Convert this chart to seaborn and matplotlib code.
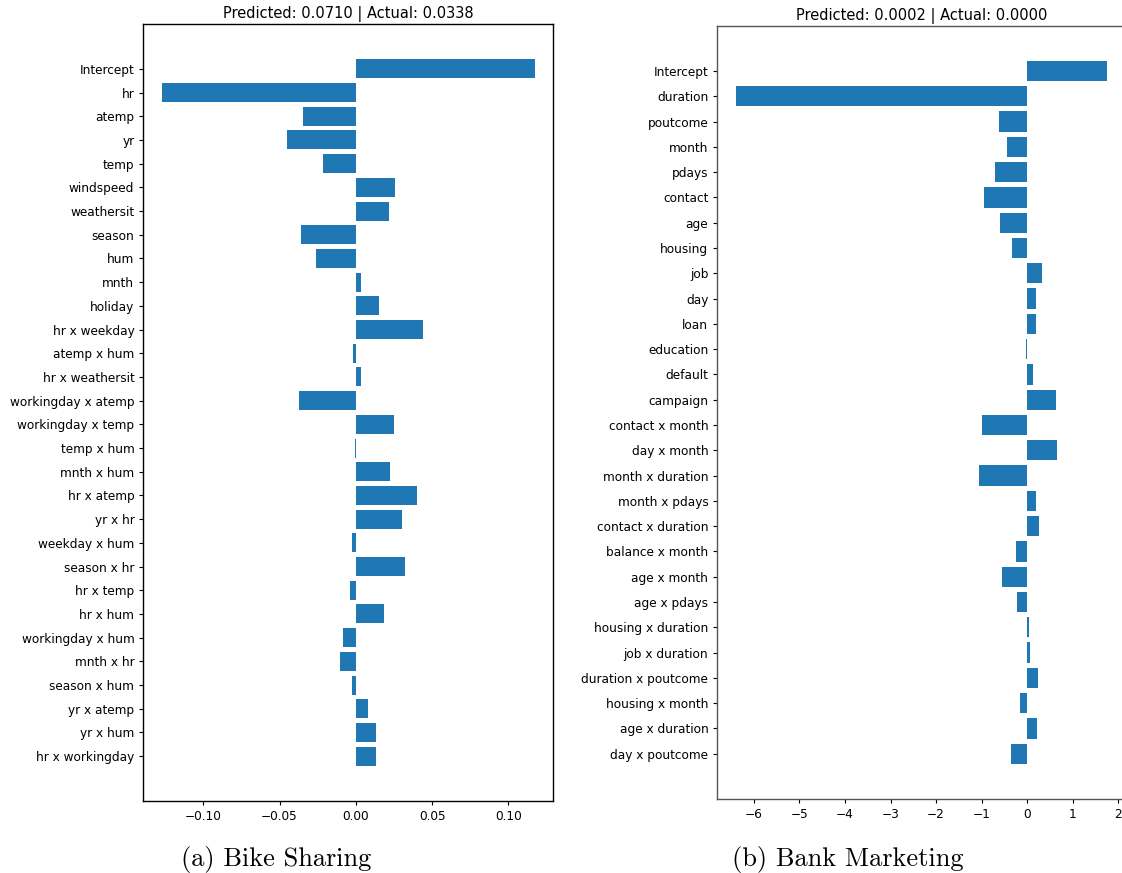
import matplotlib
matplotlib.use("Agg")
import matplotlib.pyplot as plt
import seaborn as sns

# Bike Sharing: local linear explanation terms (top to bottom)
bike_terms = [
    "Intercept", "hr", "atemp", "yr", "temp", "windspeed", "weathersit",
    "season", "hum", "mnth", "holiday", "hr x weekday", "atemp x hum",
    "hr x weathersit", "workingday x atemp", "workingday x temp",
    "temp x hum", "mnth x hum", "hr x atemp", "yr x hr", "weekday x hum",
    "season x hr", "hr x temp", "hr x hum", "workingday x hum",
    "mnth x hr", "season x hum", "yr x atemp", "yr x hum", "hr x workingday",
]
bike_weights = [
    0.1172, -0.1271, -0.0349, -0.0452, -0.0218, 0.0255, 0.0215,
    -0.0360, -0.0262, 0.0033, 0.0150, 0.0438, -0.0021,
    0.0033, -0.0374, 0.0248,
    -0.0006, 0.0222, 0.0400, 0.0302, -0.0026,
    0.0321, -0.0040, 0.0183, -0.0087,
    -0.0105, -0.0026, 0.0077, 0.0131, 0.0131,
]
bike_title = "Predicted: 0.0710 | Actual: 0.0338"
bike_caption = "(a) Bike Sharing"

# Bank Marketing: local linear explanation terms (top to bottom)
bank_terms = [
    "Intercept", "duration", "poutcome", "month", "pdays", "contact", "age",
    "housing", "job", "day", "loan", "education", "default", "campaign",
    "contact x month", "day x month", "month x duration", "month x pdays",
    "contact x duration", "balance x month", "age x month", "age x pdays",
    "housing x duration", "job x duration", "duration x poutcome",
    "housing x month", "age x duration", "day x poutcome",
]
bank_weights = [
    1.750, -6.397, -0.612, -0.440, -0.699, -0.942, -0.589,
    -0.330, 0.330, 0.196, 0.196, -0.020, 0.133, 0.636,
    -0.989, 0.660, -1.052, 0.190,
    0.255, -0.243, -0.549, -0.220,
    0.030, 0.050, 0.243,
    -0.157, 0.220, -0.353,
]
bank_title = "Predicted: 0.0002 | Actual: 0.0000"
bank_caption = "(b) Bank Marketing"

BAR_COLOR = "#1f77b4"

plt.rcParams["font.family"] = ["DejaVu Sans"]
plt.rcParams["font.size"] = 8.75
plt.rcParams["xtick.major.size"] = 3
plt.rcParams["ytick.major.size"] = 3

fig = plt.figure(figsize=(11.22, 8.73), dpi=100)
W, H = 1122, 873


def px_axes(left, top, right, bottom):
    return fig.add_axes([left / W, (H - bottom) / H, (right - left) / W, (bottom - top) / H])


def draw_panel(ax, terms, weights, title, spine_color):
    sns.barplot(x=weights, y=terms, orient="h", color=BAR_COLOR,
                saturation=1, width=0.8, ax=ax)
    n = len(terms)
    # same padding that a plain barh would get from default margins
    pad = 0.05 * (n - 1 + 0.8) + 0.4
    ax.set_ylim(n - 1 + pad, -pad)
    lo, hi = min(weights), max(weights)
    xm = 0.05 * (hi - lo)
    ax.set_xlim(lo - xm, hi + xm)
    ax.set_xlabel("")
    ax.set_ylabel("")
    ax.set_title(title, fontsize=10.5, pad=4.3)
    for s in ax.spines.values():
        s.set_visible(True)
        s.set_color(spine_color)
        s.set_linewidth(1.0)
    ax.tick_params(axis="both", colors="black", labelcolor="black")
    ax.set_facecolor("white")


ax1 = px_axes(143.3, 24, 553.3, 801)
draw_panel(ax1, bike_terms, bike_weights, bike_title, "black")
ax1.set_xticks([-0.10, -0.05, 0.00, 0.05, 0.10])

ax2 = px_axes(717.3, 25.7, 1125.5, 799)
draw_panel(ax2, bank_terms, bank_weights, bank_title, "#555555")
ax2.set_xticks([-6, -5, -4, -3, -2, -1, 0, 1, 2])

fig.text(276 / W, (H - 866) / H, bike_caption, fontfamily="cmr10",
         fontsize=19, ha="center", va="baseline")
fig.text(848 / W, (H - 866) / H, bank_caption, fontfamily="cmr10",
         fontsize=19, ha="center", va="baseline")

fig.savefig("out.png", dpi=100, facecolor="white")
